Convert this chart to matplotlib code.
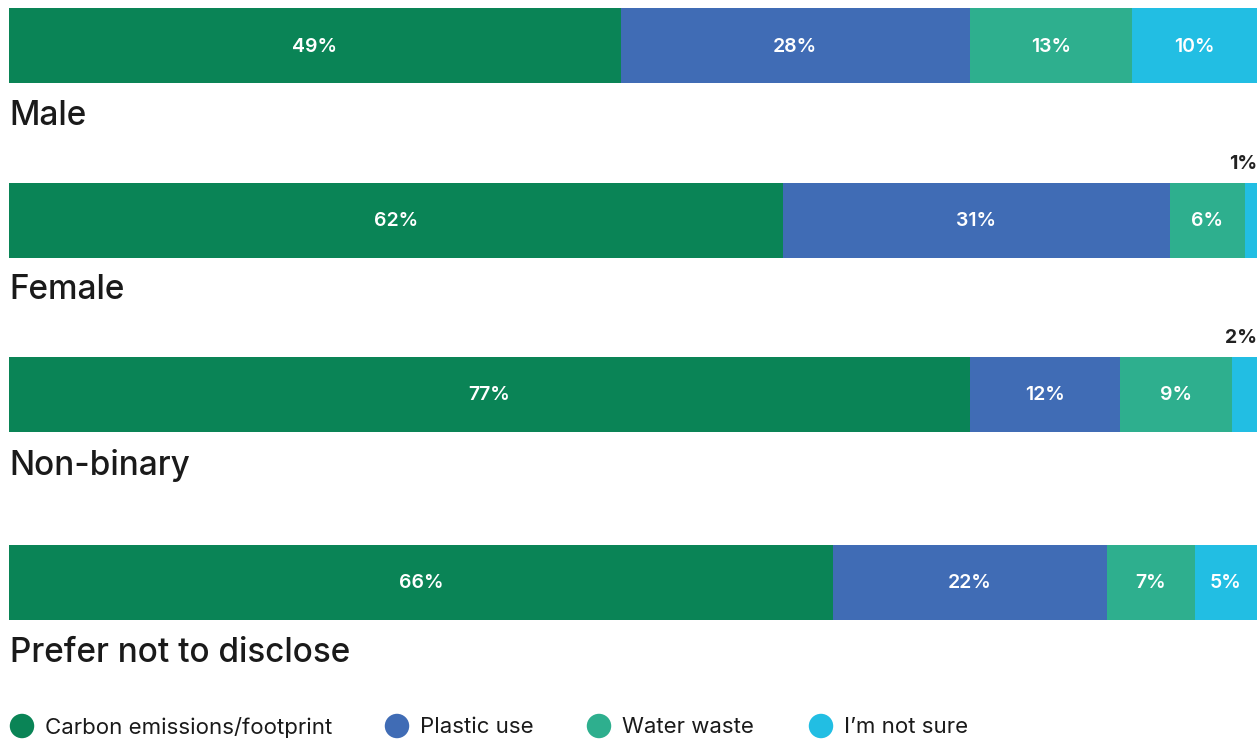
import matplotlib.pyplot as plt
import numpy as np

plt.rcParams['font.family'] = ['Inter', 'DejaVu Sans']

# data
groups = ['Male', 'Female', 'Non-binary', 'Prefer not to disclose']
series = ['Carbon emissions/footprint', 'Plastic use', 'Water waste', 'I\u2019m not sure']
carbon = [49, 62, 77, 66]
plastic = [28, 31, 12, 22]
water = [13, 6, 9, 7]
notsure = [10, 1, 2, 5]
colors = ['#0a8456', '#406cb5', '#2eaf8e', '#22bee3']

W, H = 1260, 739
fig = plt.figure(figsize=(W / 100, H / 100), dpi=100)
ax = fig.add_axes([9 / W, 0, 1248 / W, 1])
ax.set_xlim(0, 100)
ax.set_ylim(H, 0)
ax.axis('off')

bar_y = [45.5, 220.5, 394.5, 582.5]   # bar centers (px)
label_y = [116, 290, 466, 653]
bar_h = 75

vals = [carbon, plastic, water, notsure]
left = np.zeros(len(groups))
for s, (v, c) in enumerate(zip(vals, colors)):
    v = np.array(v, dtype=float)
    ax.barh(bar_y, v, left=left, height=bar_h, color=c, linewidth=0)
    for i in range(len(groups)):
        if v[i] >= 4:
            ax.text(left[i] + v[i] / 2, bar_y[i] + 1, f'{int(v[i])}%', ha='center', va='center',
                    color='white', fontsize=14, fontweight='semibold')
        else:
            ax.text(100, bar_y[i] - bar_h / 2 - 19, f'{int(v[i])}%', ha='right', va='center',
                    color='#222222', fontsize=14, fontweight='bold')
    left += v

for g, y in zip(groups, label_y):
    ax.text(0.05, y, g, ha='left', va='center', fontsize=24, color='#1a1a1a', fontweight='medium')

# legend
lax = fig.add_axes([0, 0, 1, 1])
lax.set_xlim(0, W)
lax.set_ylim(H, 0)
lax.axis('off')
leg_x = [22, 397, 599, 821]
lax.scatter(leg_x, [726] * 4, s=310, c=colors, linewidths=0)
for lx, name in zip(leg_x, series):
    lax.text(lx + 23, 727, name, ha='left', va='center', fontsize=16, color='#1a1a1a')

fig.savefig('out.png', dpi=100)
